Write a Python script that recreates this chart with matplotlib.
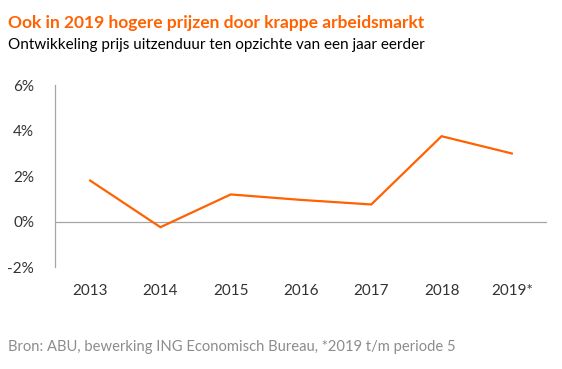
import matplotlib

matplotlib.use("Agg")
import matplotlib.pyplot as plt
from matplotlib.ticker import FuncFormatter

years = ["2013", "2014", "2015", "2016", "2017", "2018", "2019*"]
price_change = [1.80, -0.25, 1.19, 0.95, 0.75, 3.75, 2.99]
y_ticks = [-2, 0, 2, 4, 6]

ORANGE = "#FF6200"
GREY = "#A6A6A6"
TEXT = "#333333"

plt.rcParams["font.family"] = ["Lato", "DejaVu Sans"]

fig = plt.figure(figsize=(5.62, 3.69), dpi=100)
ax = fig.add_axes([0.0979, 0.2764, 0.8754, 0.4932])

x = list(range(len(years)))
ax.plot(x, price_change, color=ORANGE, linewidth=1.6, solid_joinstyle="miter")
ax.axhline(0, color=GREY, linewidth=0.9, zorder=0)

ax.set_xlim(-0.5, len(years) - 0.5)
ax.set_ylim(-2, 6)
ax.set_yticks(y_ticks)
ax.yaxis.set_major_formatter(FuncFormatter(lambda v, _: f"{v:.0f}%"))
ax.set_xticks(x)
ax.set_xticklabels(years)

for side in ["top", "right", "bottom"]:
    ax.spines[side].set_visible(False)
ax.spines["left"].set_color(GREY)
ax.spines["left"].set_linewidth(0.9)
ax.tick_params(axis="y", length=0, pad=15, labelsize=11, labelcolor=TEXT)
ax.tick_params(axis="x", length=0, pad=12, labelsize=11, labelcolor=TEXT)

fig.text(0.014, 0.925, "Ook in 2019 hogere prijzen door krappe arbeidsmarkt",
         color=ORANGE, fontsize=12.5, fontweight="bold", ha="left", va="baseline")
fig.text(0.014, 0.868, "Ontwikkeling prijs uitzenduur ten opzichte van een jaar eerder",
         color="black", fontsize=11, ha="left", va="baseline")
fig.text(0.014, 0.049, "Bron: ABU, bewerking ING Economisch Bureau, *2019 t/m periode 5",
         color="#8C8C8C", fontsize=10.6, ha="left", va="baseline")

fig.savefig("out.png", dpi=100)
